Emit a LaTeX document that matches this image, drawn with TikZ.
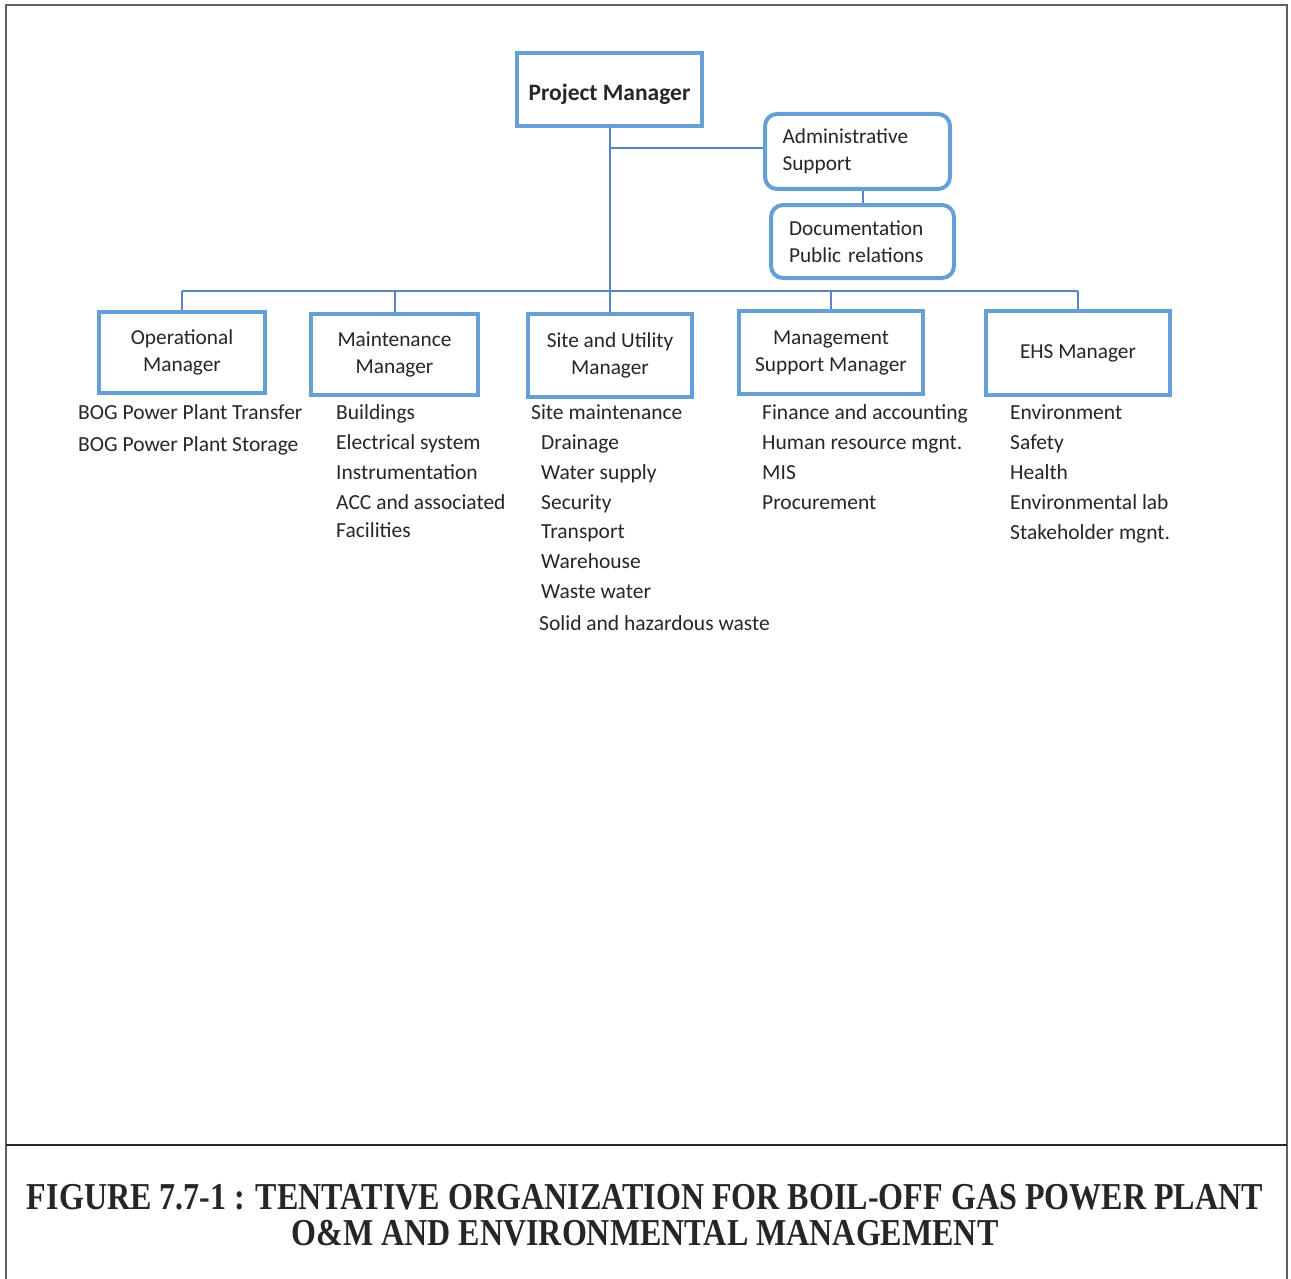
\documentclass[tikz,border=0pt]{standalone}
\usepackage{fontspec}
\usepackage{graphicx}
\setmainfont{Carlito}
\newfontfamily\capfont{Liberation Serif}
\definecolor{boxblue}{RGB}{100,160,214}
\definecolor{linkblue}{RGB}{88,134,192}
\definecolor{framegray}{RGB}{95,95,95}
\definecolor{inkgray}{RGB}{38,38,38}
\begin{document}
\begin{tikzpicture}[x=1pt,y=-1pt,
  mgr/.style={draw=boxblue, line width=4pt, fill=white, align=center, inner sep=0pt,
    text=inkgray, font=\fontsize{21.3}{27}\selectfont},
  rbox/.style={mgr, rounded corners=12pt, align=left},
  item/.style={anchor=west, inner sep=0pt, text=inkgray, font=\fontsize{21.5}{27}\selectfont,
    text height=16pt, text depth=3pt},
  link/.style={draw=linkblue, line width=2pt},
  captxt/.style={inner sep=0pt, text=inkgray}]
\useasboundingbox (0,0) rectangle (1291,1279);
% frame
\draw[framegray, line width=2pt] (6,1290) -- (6,5) -- (1287,5) -- (1287,1290);
\draw[black!85, line width=2pt] (6,1145) -- (1287,1145);

% boxes
\node[mgr, minimum width=185pt, minimum height=73pt] (pm) at (609.5,89.5)
  {\raisebox{-5pt}[12pt][0pt]{\fontsize{23.5}{27}\selectfont\bfseries Project Manager}};
\node[rbox, minimum width=185pt, minimum height=75pt, text width=150pt] (adm) at (857.5,151.5)
  {Administrative\\Support};
\node[rbox, minimum width=183pt, minimum height=73pt, text width=147pt] (doc) at (862.5,241.5)
  {Documentation\\Public relations};
\node[mgr, minimum width=166pt, minimum height=81pt] (op) at (182,352.5) {Operational\\Manager};
\node[mgr, minimum width=167pt, minimum height=81pt] (mnt) at (394.5,354.5) {Maintenance\\Manager};
\node[mgr, minimum width=164pt, minimum height=83pt] (site) at (610,355.5) {Site and Utility\\Manager};
\node[mgr, minimum width=184pt, minimum height=83pt] (mgmt) at (831,352.5) {Management\\Support Manager};
\node[mgr, minimum width=184pt, minimum height=84pt] (ehs) at (1078,353) {EHS Manager};

% connectors
\coordinate (busy) at (0,291);
\coordinate (admy) at (0,148);
\draw[link] (op.north |- busy) -- (ehs.north |- busy);
\draw[link] (pm.south) -- (pm.south |- busy);
\draw[link] (adm.west |- admy) -- (pm.south |- admy);
\draw[link] (adm.south -| doc.north) -- (doc.north);
\draw[link] (op.north) -- (op.north |- busy);
\draw[link] (mnt.north) -- (mnt.north |- busy);
\draw[link] (site.north) -- (site.north |- busy);
\draw[link] (mgmt.north) -- (mgmt.north |- busy);
\draw[link] (ehs.north) -- (ehs.north |- busy);

% lists
\node[item] (op1) at (78,413) {BOG Power Plant Transfer};
\node[item] (op2) at (78,445) {BOG Power Plant Storage};

\node[item] (mn1) at (336,413) {Buildings};
\node[item] (mn2) at (336,443) {Electrical system};
\node[item] (mn3) at (336,473) {Instrumentation};
\node[item] (mn4) at (336,503) {ACC and associated};
\node[item] (mn5) at (336,531) {Facilities};

\node[item] (st1) at (531,413) {Site maintenance};
\node[item] (st2) at (541,443) {Drainage};
\node[item] (st3) at (541,473) {Water supply};
\node[item] (st4) at (541,503) {Security};
\node[item] (st5) at (541,532) {Transport};
\node[item] (st6) at (541,562) {Warehouse};
\node[item] (st7) at (541,592) {Waste water};
\node[item] (st8) at (539,624) {Solid and hazardous waste};

\node[item] (ms1) at (762,413) {Finance and accounting};
\node[item] (ms2) at (762,443) {Human resource mgnt.};
\node[item] (ms3) at (762,473) {MIS};
\node[item] (ms4) at (762,503) {Procurement};

\node[item] (eh1) at (1010,413) {Environment};
\node[item] (eh2) at (1010,443) {Safety};
\node[item] (eh3) at (1010,473) {Health};
\node[item] (eh4) at (1010,503) {Environmental lab};
\node[item] (eh5) at (1010,533) {Stakeholder mgnt.};

% caption
\node[captxt] (cap1) at (645,1197)
  {\resizebox{1236pt}{\height}{\capfont\bfseries\fontsize{38}{38}\selectfont FIGURE 7.7-1 : TENTATIVE ORGANIZATION FOR BOIL-OFF GAS POWER PLANT}};
\node[captxt] (cap2) at (645,1233)
  {\resizebox{707pt}{\height}{\capfont\bfseries\fontsize{38}{38}\selectfont O\&M AND ENVIRONMENTAL MANAGEMENT}};
\end{tikzpicture}
\end{document}
